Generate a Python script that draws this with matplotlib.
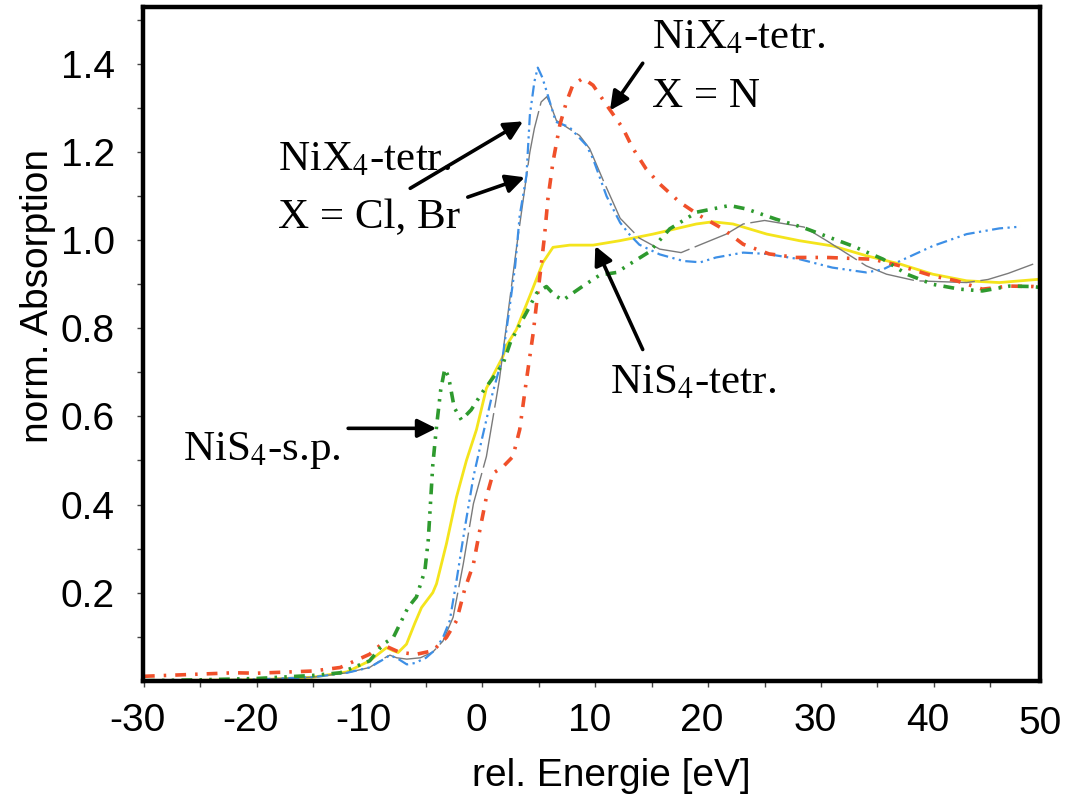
import matplotlib
matplotlib.use("Agg")
import matplotlib.pyplot as plt
import matplotlib.transforms as mtransforms

# --- data (energy in eV, normalised absorption) ---
cl_x = [-30, -25, -20, -15, -12, -10, -8.8, -8.2, -7.5, -6.7, -6, -5, -4.2, -3.5, -2.9,
        -2.3, -1.6, -0.8, 0.0, 0.9, 1.8, 2.3, 2.9, 3.3, 3.9, 4.2, 4.6, 4.9, 5.3, 5.7,
        6.5, 7.7, 9.2, 9.8, 11.0, 12.2, 13.0, 13.9, 15.7, 17.8, 19.3, 20.7, 23.1,
        25.2, 28.1, 31.0, 34.0, 35.5, 37.0, 39.9, 42.9, 45.8, 47.7]
cl_y = [0.0, 0.0, 0.003, 0.008, 0.018, 0.03, 0.048, 0.058, 0.05, 0.037, 0.04, 0.052,
        0.07, 0.098, 0.136, 0.227, 0.341, 0.463, 0.554, 0.653, 0.737, 0.828, 0.942,
        1.056, 1.147, 1.284, 1.36, 1.392, 1.37, 1.337, 1.269, 1.257, 1.216, 1.185,
        1.10, 1.04, 1.014, 0.99, 0.968, 0.953, 0.95, 0.961, 0.972, 0.969, 0.957,
        0.938, 0.927, 0.934, 0.953, 0.987, 1.014, 1.027, 1.031]

br_x = [-30, -20, -15, -12, -10, -8.8, -8.2, -7.6, -6.7, -5.5, -4.4, -3.5, -2.6, -1.7,
        -0.8, 0.35, 1.5, 3.0, 4.2, 4.6, 5.2, 5.7, 6.0, 6.55, 8.6, 9.5, 10.7, 12.2,
        13.9, 15.7, 17.6, 19.4, 21.6, 23.1, 25.0, 28.5, 30.5, 34.0, 35.8, 38.4,
        42.9, 44.8, 46.6, 48.8]
br_y = [0.0, 0.003, 0.008, 0.018, 0.03, 0.05, 0.058, 0.052, 0.049, 0.052, 0.065,
        0.09, 0.144, 0.265, 0.402, 0.509, 0.683, 0.98, 1.20, 1.254, 1.314, 1.326,
        1.31, 1.272, 1.238, 1.208, 1.136, 1.05, 1.005, 0.98, 0.972, 0.991, 1.014,
        1.037, 1.045, 1.03, 0.999, 0.942, 0.923, 0.908, 0.904, 0.911, 0.925, 0.946]

n_x = [-30, -28, -25, -22, -20, -17, -15, -12.6, -10, -8.95, -8, -7.3, -5.85, -4.4,
       -3.2, -2.3, -1.6, -0.8, -0.24, 0.35, 0.94, 1.83, 2.7, 3.3, 3.9, 4.5, 4.8, 5.2,
       5.5, 5.8, 6.25, 6.85, 7.44, 8.0, 8.9, 9.8, 11.0, 12.45, 13.3, 14.5, 15.7,
       17.5, 19.25, 21.3, 23.1, 25.4, 27.8, 30.5, 34.6, 37.0, 39.9, 42.0, 44.3,
       46.7, 48.8, 49.4]
n_y = [0.01, 0.012, 0.015, 0.018, 0.017, 0.02, 0.022, 0.03, 0.06, 0.083, 0.072,
       0.064, 0.06, 0.068, 0.098, 0.136, 0.205, 0.265, 0.341, 0.417, 0.471, 0.486,
       0.509, 0.57, 0.683, 0.79, 0.858, 0.942, 1.01, 1.094, 1.178, 1.261, 1.314,
       1.352, 1.368, 1.352, 1.307, 1.254, 1.21, 1.162, 1.128, 1.086, 1.056, 1.026,
       0.991, 0.969, 0.961, 0.961, 0.957, 0.942, 0.919, 0.908, 0.889, 0.896,
       0.895, 0.893]

sp_x = [-30, -25, -20, -15, -12.6, -10, -8.8, -7.9, -6.6, -5.85, -5.1, -4.8, -4.4,
        -4.07, -3.7, -3.34, -3.0, -2.5, -1.86, -1.0, 0.05, 1.0, 1.83, 2.5, 3.9, 4.8,
        5.67, 6.4, 7.14, 8.0, 8.9, 10.4, 11.9, 13.3, 14.8, 16.6, 19.0, 21.9, 23.4,
        26.0, 28.4, 32.8, 35.5, 37.6, 39.9, 42.3, 44.3, 46.7, 48.7, 49.4]
sp_y = [0.0, 0.002, 0.005, 0.012, 0.018, 0.045, 0.083, 0.098, 0.166, 0.19, 0.25,
        0.32, 0.49, 0.577, 0.66, 0.708, 0.69, 0.62, 0.592, 0.615, 0.657, 0.69, 0.72,
        0.77, 0.836, 0.88, 0.895, 0.875, 0.864, 0.88, 0.896, 0.921, 0.927, 0.95,
        0.974, 1.026, 1.064, 1.079, 1.071, 1.048, 1.029, 0.987, 0.957, 0.923, 0.90,
        0.889, 0.885, 0.896, 0.895, 0.893]

td_x = [-30, -20, -15, -12, -10, -9, -8.5, -7.9, -7.47, -6.73, -6.0, -5.4, -4.4,
        -4.07, -3.19, -2.3, -1.42, -0.53, 0.35, 1.83, 2.1, 3.0, 4.19, 5.37, 6.25,
        7.73, 9.8, 12.16, 15.1, 18.95, 20.4, 22.2, 25.2, 28.1, 31.05, 34.0, 37.0,
        39.9, 42.9, 45.8, 49.1, 49.4]
td_y = [0.0, 0.002, 0.008, 0.02, 0.045, 0.065, 0.075, 0.068, 0.064, 0.083, 0.13,
        0.166, 0.2, 0.22, 0.311, 0.417, 0.50, 0.57, 0.664, 0.737, 0.76, 0.797, 0.873,
        0.95, 0.984, 0.989, 0.989, 0.999, 1.014, 1.037, 1.042, 1.037, 1.014, 0.999,
        0.987, 0.965, 0.946, 0.923, 0.908, 0.904, 0.911, 0.912]

x_ticks = [-30, -25, -20, -15, -10, -5, 0, 5, 10, 15, 20, 25, 30, 35, 40, 45]
x_tick_labels = ["-30", "", "-20", "", "-10", "", "0", "", "10", "", "20", "", "30", "", "40", ""]
y_ticks = [0.1, 0.2, 0.3, 0.4, 0.5, 0.6, 0.7, 0.8, 0.9, 1.0, 1.1, 1.2, 1.3, 1.4, 1.5]
y_tick_labels = ["", "0.2", "", "0.4", "", "0.6", "", "0.8", "", "1.0", "", "1.2", "", "1.4", ""]

# annotations: (text, text x, text baseline y)
labels = [
    ("NiX$_4$-tetr.", 15.0, 1.436),
    ("X = N", 15.0, 1.302),
    ("NiX$_4$-tetr.", -18.1, 1.159),
    ("X = Cl, Br", -18.1, 1.027),
    ("NiS$_4$-tetr.", 11.3, 0.653),
    ("NiS$_4$-s.p.", -26.5, 0.501),
]
# arrows: (tail x, tail y, head x, head y)
arrows = [
    (-6.4, 1.118, 3.6, 1.270),
    (-1.3, 1.098, 3.75, 1.143),
    (14.2, 1.402, 11.3, 1.295),
    (14.2, 0.752, 10.0, 0.987),
    (-11.9, 0.573, -4.1, 0.573),
]

plt.rcParams["mathtext.fontset"] = "stix"

fig = plt.figure(figsize=(10.66, 7.94), dpi=100)
ax = fig.add_axes([0.1339, 0.1427, 0.8417, 0.8481])

ax.plot(td_x, td_y, color="#f4e41c", lw=2.0, solid_capstyle="round")
ax.plot(br_x, br_y, color="#7a7a7a", lw=1.0, dashes=(40, 4))
ax.plot(cl_x, cl_y, color="#3d8fe6", lw=1.6, dashes=(5, 2, 1, 2, 1, 2))
ax.plot(n_x, n_y, color="#f0502a", lw=2.6, dashes=(3, 2.5, 0.7, 2.5))
ax.plot(sp_x, sp_y, color="#2e9a2e", lw=2.6, dashes=(3, 2, 0.7, 2, 0.7, 2))

ax.set_xlim(-30.1, 49.4)
ax.set_ylim(0, 1.529)

ax.set_xticks(x_ticks)
ax.set_xticklabels(x_tick_labels)
ax.set_yticks(y_ticks)
ax.set_yticklabels(y_tick_labels)
ax.tick_params(axis="both", direction="out", length=4, width=1, labelsize=28, color="#444444")
ax.tick_params(axis="x", pad=12)
ax.tick_params(axis="y", pad=16)
for lab in ax.get_xticklabels() + ax.get_yticklabels():
    lab.set_family("Liberation Sans")
shift = mtransforms.ScaledTranslation(-6 / 100, 0, fig.dpi_scale_trans)
for lab in ax.get_xticklabels():
    lab.set_transform(lab.get_transform() + shift)
# the 50 label sits at the right frame edge
ax.text(1.0, -0.038, "50", transform=ax.transAxes, ha="center", va="top",
        fontsize=28, family="Liberation Sans")

for side in ax.spines.values():
    side.set_linewidth(3.2)

fig.text(611 / 1066, 1 - 786 / 794, "rel. Energie [eV]", ha="center", va="baseline",
         fontsize=28, family="Liberation Sans")
fig.text(38 / 1066, 1 - 296 / 794, "norm. Absorption", ha="center", va="center",
         rotation=90, fontsize=28, family="Liberation Sans")

for txt, tx, ty in labels:
    ax.text(tx, ty, txt, ha="left", va="baseline", fontsize=31, family="Liberation Serif")
for x0, y0, x1, y1 in arrows:
    ax.annotate("", xy=(x1, y1), xytext=(x0, y0),
                arrowprops=dict(arrowstyle="-|>", lw=2.6, color="black",
                                mutation_scale=28, shrinkA=0, shrinkB=0))

fig.savefig("out.png", dpi=100)
